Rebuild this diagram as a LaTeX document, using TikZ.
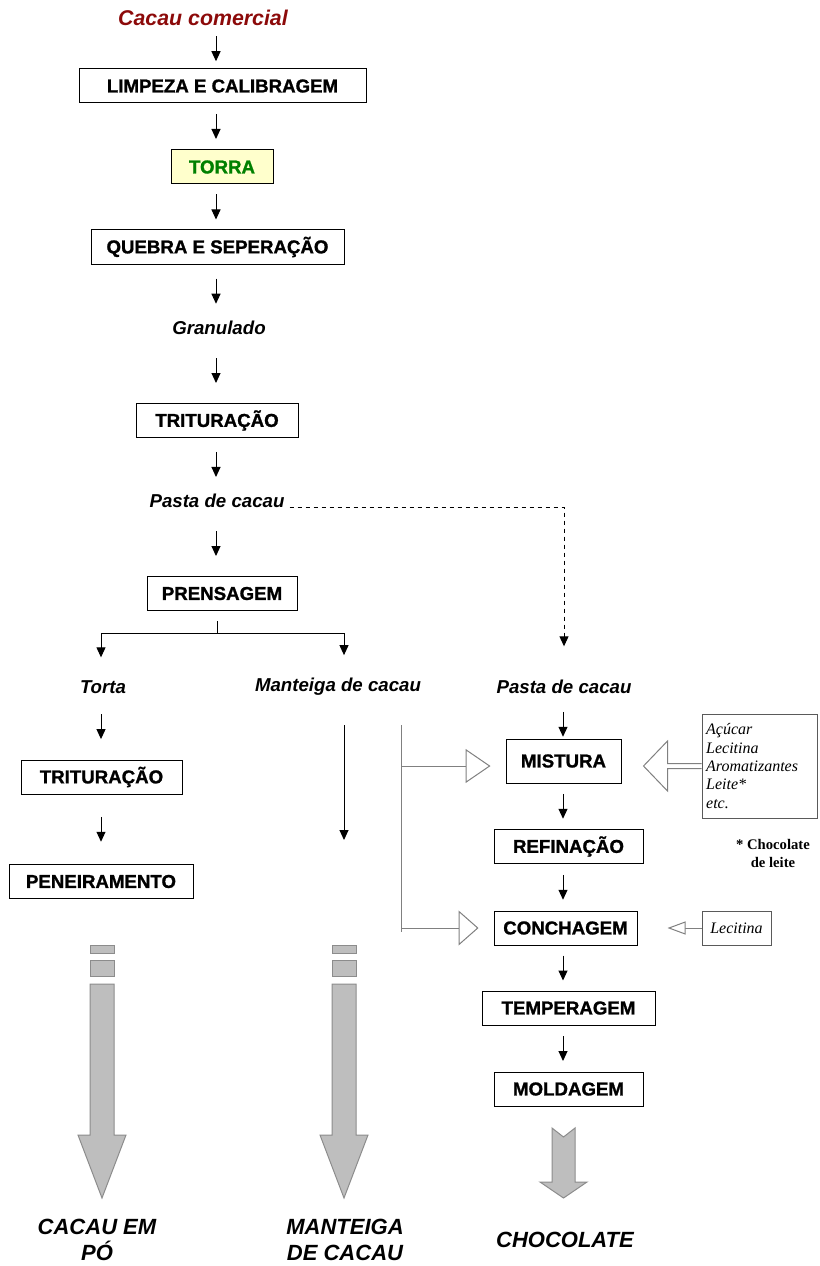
\documentclass[tikz,border=0pt]{standalone}
\usepackage{fontspec}
\setmainfont{Liberation Sans}
\newfontfamily\heavy{Liberation Sans}[BoldFeatures={FakeBold=1.2}]
\newfontfamily\serif{Liberation Serif}
\usetikzlibrary{arrows.meta,calc}

\definecolor{cacaured}{RGB}{140,10,10}
\definecolor{torragreen}{RGB}{0,128,0}
\definecolor{torrafill}{RGB}{255,255,204}
\definecolor{linegray}{RGB}{128,128,128}
\definecolor{boxgray}{RGB}{90,90,90}
\definecolor{bigfill}{RGB}{190,190,190}
\definecolor{bigdraw}{RGB}{140,140,140}

\tikzset{every picture/.style={line width=0.75pt}}
\tikzset{
  box/.style={draw, minimum height=25.5pt, inner sep=2pt, font=\heavy\fontsize{14}{16}\selectfont\bfseries},
  lbl/.style={inner sep=2pt, font=\heavy\fontsize{14}{16}\selectfont\bfseries\itshape},
  fin/.style={align=center, font=\heavy\fontsize{16.5}{19}\selectfont\bfseries\itshape},
  note/.style={draw=boxgray, inner sep=2pt, font=\serif\fontsize{12}{13.75}\selectfont\itshape},
  tip/.style={-{Triangle[length=7.5pt,width=6.75pt]}},
  gline/.style={draw=linegray},
  bigarrow/.style={fill=bigfill, draw=bigdraw}
}

\begin{document}
\begin{tikzpicture}[x=0.75pt,y=0.75pt,yscale=-1,xscale=1]
\useasboundingbox (0,0) rectangle (819,1266);

% columns
\coordinate (ax) at (216,0);
\coordinate (bx) at (101,0);
\coordinate (dx) at (563,0);

% Text Node
\node[lbl, text=cacaured, font=\heavy\fontsize{16}{18}\selectfont\bfseries\itshape] (cacau) at (203,18) {Cacau comercial};
\node[box, minimum width=215.25pt] (limpeza) at (222.5,86) {LIMPEZA E CALIBRAGEM};
\node[box, minimum width=76.5pt, fill=torrafill, text=torragreen] (torra) at (222,167) {TORRA};
\node[box, minimum width=189.75pt] (quebra) at (217.5,247) {QUEBRA E SEPERAÇÃO};
\node[lbl] (granulado) at (219,328) {Granulado};
\node[box, minimum width=121.5pt] (trit) at (217,420.5) {TRITURAÇÃO};
\node[lbl] (pasta) at (217,501) {Pasta de cacau};
\node[box, minimum width=112.5pt] (prensagem) at (222,593.5) {PRENSAGEM};

% Text Node
\node[lbl] (torta) at (103,687) {Torta};
\node[lbl] (manteiga) at (338,687) {Manteiga de cacau};
\node[lbl] (pastab) at (564,687) {Pasta de cacau};

\node[box, minimum width=120.75pt] (tritb) at (101.5,777) {TRITURAÇÃO};
\node[box, minimum width=138pt] (peneira) at (101,881.5) {PENEIRAMENTO};

\node[box, minimum width=86.25pt, minimum height=33pt] (mistura) at (563.5,761) {MISTURA};
\node[box, minimum width=111.75pt] (refina) at (568.5,846.5) {REFINAÇÃO};
\node[box, minimum width=107.25pt] (concha) at (565.5,928) {CONCHAGEM};
\node[box, minimum width=129.75pt] (tempera) at (568.5,1008) {TEMPERAGEM};
\node[box, minimum width=111.75pt] (molda) at (568.5,1089) {MOLDAGEM};

% ingredients
\node[note, minimum width=86.25pt, minimum height=78pt, text width=80pt, align=left] (ingred) at (759.5,766) {Açúcar\\Lecitina\\Aromatizantes\\Leite*\\etc.};
\node[note, minimum width=51.75pt, minimum height=25.5pt] (lecit) at (736.5,928) {Lecitina};
\node[align=center, inner sep=1pt, font=\serif\fontsize{11}{13.5}\selectfont\bfseries] (nota) at (773,853) {* Chocolate\\de leite};

% final products
\node[fin] (cacaupo) at (97,1240) {CACAU EM\\PÓ};
\node[fin] (mant) at (345,1240) {MANTEIGA\\DE CACAU};
\node[fin] (choc) at (565,1240) {CHOCOLATE};

%Straight Lines (short arrows, centred in the gap)
\draw[tip] ($(cacau.south -| ax)!.5!(limpeza.north -| ax)+(0,-12.5)$) -- ++(0,25);
\draw[tip] ($(limpeza.south -| ax)!.5!(torra.north -| ax)+(0,-12.5)$) -- ++(0,25);
\draw[tip] ($(torra.south -| ax)!.5!(quebra.north -| ax)+(0,-12.5)$) -- ++(0,25);
\draw[tip] ($(quebra.south -| ax)!.5!(granulado.north -| ax)+(0,-12.5)$) -- ++(0,25);
\draw[tip] ($(granulado.south -| ax)!.5!(trit.north -| ax)+(0,-12.5)$) -- ++(0,25);
\draw[tip] ($(trit.south -| ax)!.5!(pasta.north -| ax)+(0,-12.5)$) -- ++(0,25);
\draw[tip] ($(pasta.south -| ax)!.5!(prensagem.north -| ax)+(0,-12.5)$) -- ++(0,25);

% split
\coordinate (split) at (217,633);
\coordinate (sl) at (101,633);
\coordinate (sr) at (344,633);
\draw (prensagem.south -| split) ++(0,10) -- (split);
\draw (sl) -- (sr);
\draw[tip, shorten >=15pt] (sl) -- (torta.north -| sl);
\draw[tip, shorten >=15pt] (sr) -- (manteiga.north -| sr);

% dashed
\draw[tip, dashed, shorten >=23pt] ($(pasta.east)+(2,6)$) -| (pastab.north);

% left column
\draw[tip] ($(torta.south -| bx)!.5!(tritb.north -| bx)+(0,-14)$) -- ++(0,25);
\draw[tip] ($(tritb.south -| bx)!.5!(peneira.north -| bx)+(0,-12.5)$) -- ++(0,25);

% manteiga
\coordinate (mtop) at (344,725);
\coordinate (mend) at (344,840);
\draw[tip] (mtop) -- (mend);

% right column
\draw[tip] ($(pastab.south -| dx)!.5!(mistura.north -| dx)+(0,-6)$) -- ++(0,25);
\draw[tip] ($(mistura.south -| dx)!.5!(refina.north -| dx)+(0,-12.5)$) -- ++(0,25);
\draw[tip] ($(refina.south -| dx)!.5!(concha.north -| dx)+(0,-12.5)$) -- ++(0,25);
\draw[tip] ($(concha.south -| dx)!.5!(tempera.north -| dx)+(0,-12.5)$) -- ++(0,25);
\draw[tip] ($(tempera.south -| dx)!.5!(molda.north -| dx)+(0,-12.5)$) -- ++(0,25);

% gray feed lines
\coordinate (gtop) at (401,725);
\coordinate (gbot) at (401,932);
\coordinate (gm) at (401,766);
\coordinate (gc) at (401,928);
\draw[gline] (gtop) -- (gbot);
\draw[gline, -{Triangle[open,fill=white,length=18.75pt,width=25.5pt]}, shorten >=11.25pt] (gm) -- (gm -| mistura.west);
\draw[gline, -{Triangle[open,fill=white,length=15pt,width=26.25pt]}, shorten >=11.25pt] (gc) -- (gc -| concha.west);
\draw[gline, -{Triangle[open,fill=white,length=13.5pt,width=9.75pt]}, shorten >=22.5pt] (lecit.west) -- (concha.east);

% ingredients block arrow
\draw[gline, fill=white] ($(ingred.west)+(0,-2.5)$) -- ++(-34,0) -- ++(0,-22.5) -- ++(-24,25) -- ++(24,25) -- ++(0,-22.5) -- ++(34,0);

%Shape: big arrows
\draw[bigarrow] (90,945) rectangle (114,953);
\draw[bigarrow] (90,960) rectangle (114,976);
\draw[bigarrow] (90,984) -- (114,984) -- (114,1135) -- (126,1135) -- (102,1198) -- (78,1135) -- (90,1135) -- cycle;

\draw[bigarrow] (332,945) rectangle (356,953);
\draw[bigarrow] (332,960) rectangle (356,976);
\draw[bigarrow] (332,984) -- (356,984) -- (356,1135) -- (368,1135) -- (344,1198) -- (320,1135) -- (332,1135) -- cycle;

\draw[bigarrow] (552,1128) -- (563.5,1137) -- (575,1128) -- (575,1182) -- (587,1182) -- (563.5,1198) -- (540,1182) -- (552,1182) -- cycle;

\end{tikzpicture}
\end{document}
